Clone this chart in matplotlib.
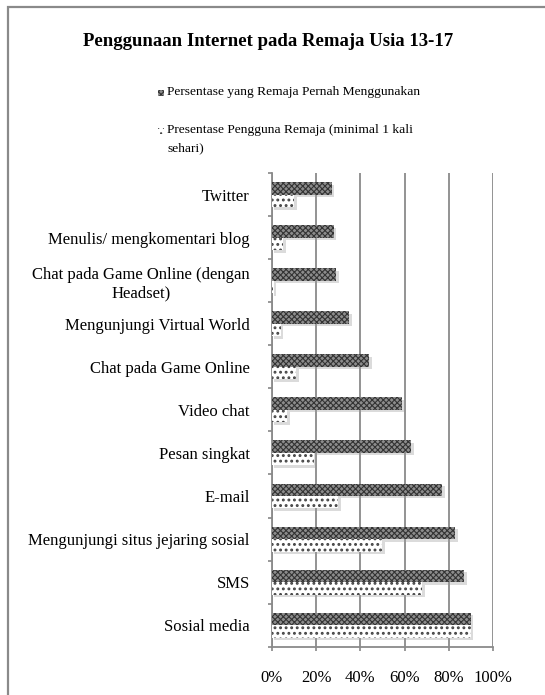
import matplotlib.pyplot as plt
import matplotlib.transforms as mtrans
from matplotlib.patches import Rectangle
import numpy as np

plt.rcParams['font.family'] = ['Liberation Serif', 'DejaVu Serif']
plt.rcParams['hatch.linewidth'] = 0.8

# data, bottom to top
kategori = ['Sosial media', 'SMS', 'Mengunjungi situs jejaring sosial', 'E-mail',
            'Pesan singkat', 'Video chat', 'Chat pada Game Online',
            'Mengunjungi Virtual World', 'Chat pada Game Online (dengan\nHeadset)',
            'Menulis/ mengkomentari blog', 'Twitter']
pernah = [90, 87, 83, 77, 63, 59, 44, 35, 29, 28, 27]
harian = [90, 68, 50, 30, 19, 7, 11, 4, 0.5, 5, 10]
seri = ['Persentase yang Remaja Pernah Menggunakan',
        'Presentase Pengguna Remaja (minimal 1 kali\nsehari)']
xticks = [0, 20, 40, 60, 80, 100]

fig = plt.figure(figsize=(5.45, 6.95), dpi=100)
ax = fig.add_axes([0.499, 0.0695, 0.4056, 0.6815])

y = np.arange(len(kategori))
h = 0.29

# soft drop shadow behind the bars
shift = ax.transData + mtrans.ScaledTranslation(2.5 / 100, -2.5 / 100, fig.dpi_scale_trans)
ax.barh(y + h / 2, pernah, height=h, color='#9a9a9a', alpha=0.35, linewidth=0,
        zorder=2, transform=shift)
ax.barh(y - h / 2, harian, height=h, color='#9a9a9a', alpha=0.35, linewidth=0,
        zorder=2, transform=shift)

ax.barh(y + h / 2, pernah, height=h, color='#8c8c8c', edgecolor='#333333',
        hatch='xxxxxx', linewidth=0, zorder=3)
plt.rcParams['hatch.linewidth'] = 1.3
ax.barh(y - h / 2, harian, height=h, color='white', edgecolor='#444444',
        hatch='...', linewidth=0, zorder=3)

ax.set_xlim(0, 100)
ax.set_ylim(-0.5, len(kategori) - 0.5)
ax.set_xticks(xticks)
ax.set_xticklabels([f'{v}%' for v in xticks], fontsize=12)
ax.set_yticks(y)
ax.set_yticklabels(kategori, fontsize=12)
for lbl in ax.get_yticklabels():
    lbl.set_multialignment('center')
ax.set_yticks(np.arange(-0.5, len(kategori), 1), minor=True)
ax.tick_params(axis='y', which='major', length=0, pad=16)
ax.tick_params(axis='y', which='minor', length=3, color='#888888', width=1.2)
ax.tick_params(axis='x', length=3, color='#888888', width=1.2, pad=14)
ax.grid(axis='x', color='#8a8a8a', linewidth=1.3, zorder=0)
ax.set_axisbelow(True)
for s in ['top', 'right']:
    ax.spines[s].set_visible(False)
for s in ['left', 'bottom']:
    ax.spines[s].set_color('#8a8a8a')
    ax.spines[s].set_linewidth(1.3)

# title
fig.text(268.5 / 545, 1 - 41 / 695, 'Penggunaan Internet pada Remaja Usia 13-17',
         ha='center', va='center', fontsize=13.5, fontweight='bold')

# legend drawn by hand
W, H = 545, 695
plt.rcParams['hatch.linewidth'] = 0.8
fig.patches.append(Rectangle((158 / W, 1 - 96 / H), 6 / W, 6 / H, transform=fig.transFigure,
                             facecolor='#8c8c8c', edgecolor='#333333', hatch='xxxxxx', linewidth=0))
fig.patches.append(Rectangle((158 / W, 1 - 134 / H), 6 / W, 6 / H, transform=fig.transFigure,
                             facecolor='white', edgecolor='#444444', hatch='...', linewidth=0))
fig.text(167 / W, 1 - 92 / H, seri[0], ha='left', va='center', fontsize=9.7)
fig.text(167 / W, 1 - 130 / H, seri[1].split('\n')[0], ha='left', va='center', fontsize=9.7)
fig.text(167 / W, 1 - 148 / H, seri[1].split('\n')[1], ha='left', va='center', fontsize=9.7)

# outer frame
fig.patches.append(Rectangle((8 / W, -0.05), 1.2, 1 - 7 / H + 0.05, transform=fig.transFigure,
                             facecolor='none', edgecolor='#8a8a8a', linewidth=1.6))

fig.savefig('out.png', dpi=100)
